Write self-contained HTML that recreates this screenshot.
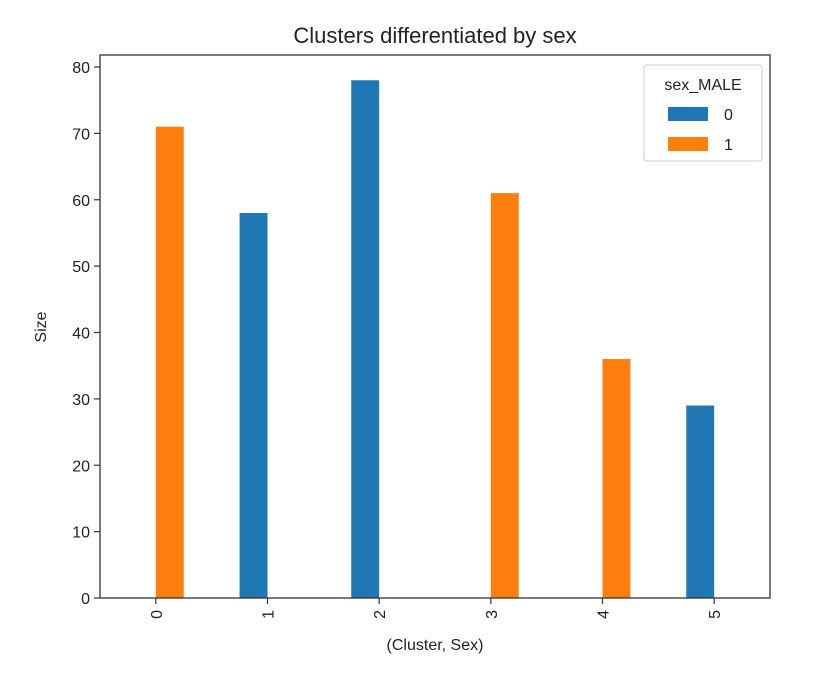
<!DOCTYPE html>
<html><head><meta charset="utf-8"><style>
body{margin:0;background:#fff;font-family:"Liberation Sans","DejaVu Sans",sans-serif;}
</style></head><body>
<svg id="chart" width="822" height="676" xmlns="http://www.w3.org/2000/svg" font-family="Liberation Sans, DejaVu Sans, sans-serif">
<text x="435" y="43" font-size="22" text-anchor="middle" fill="#222">Clusters differentiated by sex</text>
<g id="bars"></g>
<g id="axes"></g>
<text x="435" y="650" font-size="16" text-anchor="middle" fill="#222">(Cluster, Sex)</text>
<text transform="translate(46,327) rotate(-90)" font-size="16" text-anchor="middle" fill="#222">Size</text>
<g>
<rect x="644" y="65" width="118" height="96" rx="3" fill="#fff" stroke="#ccc"/>
<text x="703" y="90" font-size="16" text-anchor="middle" fill="#222">sex_MALE</text>
<rect x="668" y="107" width="40" height="14" fill="#1f77b4"/>
<text x="724" y="120" font-size="16" fill="#222">0</text>
<rect x="668" y="137" width="40" height="14" fill="#ff7f0e"/>
<text x="724" y="150" font-size="16" fill="#222">1</text>
</g>
</svg>
<script>
const categories = ["0","1","2","3","4","5"];
const series0 = [0,58,78,0,0,29];
const series1 = [71,0,0,61,36,0];
const yTicks = [0,10,20,30,40,50,60,70,80];
const NS="http://www.w3.org/2000/svg";
const L=100,R=770,T=55,B=598;
const step=(R-L)/categories.length;
const xc=i=>L+step*(i+0.5);
const y=v=>B-v*(B-67)/80;
const bars=document.getElementById('bars'), axes=document.getElementById('axes');
function mk(tag,attrs,parent){const e=document.createElementNS(NS,tag);for(const k in attrs)e.setAttribute(k,attrs[k]);parent.appendChild(e);return e;}
categories.forEach((c,i)=>{
  const w=step*0.25;
  if(series0[i]>0){const r=mk('rect',{x:xc(i)-w,y:y(series0[i]),width:w,height:B-y(series0[i]),fill:'#1f77b4'},bars);
    
    }
  if(series1[i]>0){const r=mk('rect',{x:xc(i),y:y(series1[i]),width:w,height:B-y(series1[i]),fill:'#ff7f0e'},bars);
    
    }
  mk('line',{x1:xc(i),x2:xc(i),y1:B,y2:B+6,stroke:'#333','stroke-width':1.2},axes);
  const t=mk('text',{transform:`translate(${xc(i)+6},${B+12}) rotate(-90)`,'font-size':16,'text-anchor':'end',fill:'#222'},axes);
  t.textContent=c;
  
  
});
yTicks.forEach(v=>{
  mk('line',{x1:L-6,x2:L,y1:y(v),y2:y(v),stroke:'#333','stroke-width':1.2},axes);
  const t=mk('text',{x:L-10,y:y(v)+6,'font-size':16,'text-anchor':'end',fill:'#222'},axes);
  t.textContent=v;
  
  
});
const f=mk('rect',{x:L,y:T,width:R-L,height:B-T,fill:'none',stroke:'#333','stroke-width':1.3},axes);


</script>
</body></html>
